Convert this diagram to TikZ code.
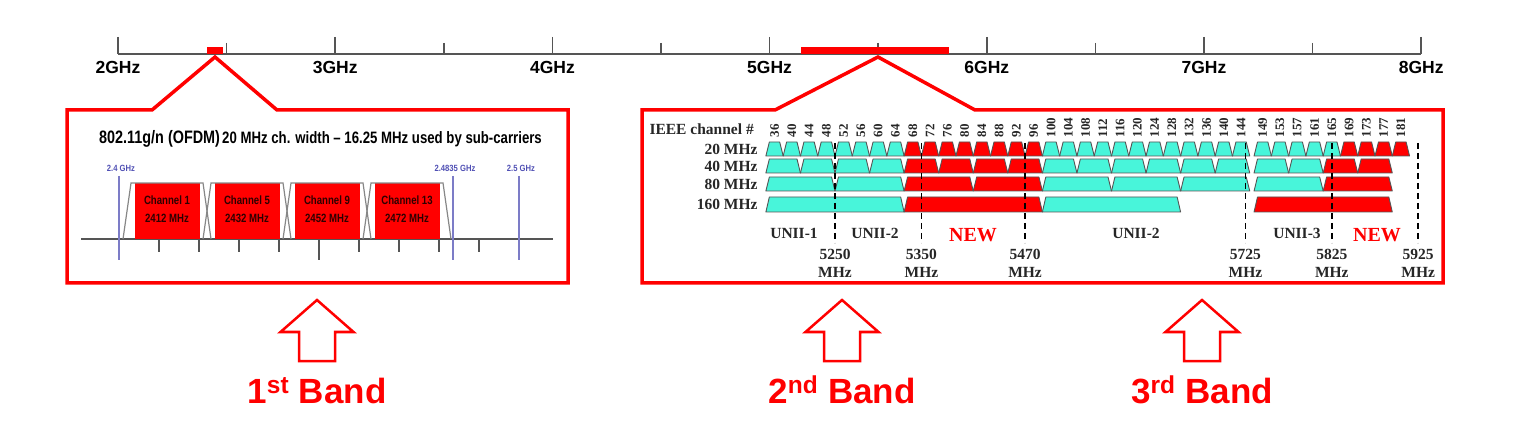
\documentclass[tikz,border=0pt]{standalone}
\usepackage{fontspec}
\usepackage{graphicx}
\setmainfont{Liberation Serif}
\newfontfamily\arialfont{Liberation Sans}
\usetikzlibrary{calc}
\definecolor{BandRed}{RGB}{255,0,0}
\definecolor{ChanCyan}{RGB}{72,245,218}
\definecolor{MarkBlue}{RGB}{80,80,180}
\definecolor{AxisGray}{RGB}{85,85,85}
\definecolor{MaskGray}{RGB}{135,135,135}
\definecolor{ChanInk}{RGB}{45,0,0}
\newcommand\setsize[1]{\fontsize{#1}{#1}\selectfont}
\newcommand\narrow[1]{\scalebox{0.8}[1]{#1}}
% centres, half width, top, bottom, first red, last red
\newcommand\chanrow[6]{%
  \foreach \c in {#1}{%
    \ifnum\c<#5\relax \def\colr{ChanCyan}\else
      \ifnum\c>#6\relax \def\colr{ChanCyan}\else \def\colr{BandRed}\fi\fi
    \draw[chanshape, fill=\colr] ({5*\c-#2},#4) -- ({5*\c-#2+4},#3)
      -- ({5*\c+#2-4},#3) -- ({5*\c+#2},#4) -- cycle;
  }}

\begin{document}
\begin{tikzpicture}[x=1pt, y=-1pt,
    callout/.style={draw=BandRed, line width=3.5pt, line join=miter},
    bandarrow/.style={draw=BandRed, line width=2.5pt, line join=miter},
    axisline/.style={draw=AxisGray, line width=1.5pt},
    ghzlbl/.style={font=\arialfont\bfseries\setsize{17.5}},
    chantext/.style={font=\arialfont\bfseries\setsize{12}, text=ChanInk},
    marktext/.style={font=\arialfont\bfseries\setsize{9}, text=MarkBlue},
    chanshape/.style={draw=AxisGray, line width=0.9pt, line join=round},
    chnum/.style={font=\bfseries\setsize{13}, rotate=90, anchor=west, inner sep=0.5pt, text=black!85},
    serifbold/.style={font=\bfseries\setsize{15.5}, text=black!85},
    edgeline/.style={draw=black, line width=1.8pt, dash pattern=on 6pt off 4pt},
    newtext/.style={font=\bfseries\setsize{20}, text=BandRed},
    bandtext/.style={font=\arialfont\bfseries\setsize{35}, text=BandRed, anchor=base}]
\useasboundingbox (0,0) rectangle (1518,430);

\draw[axisline] (118,54) -- (1421,54);
\foreach \g [evaluate=\g as \gx using {118+217.2*(\g-2)}] in {2,...,8} {
  \draw[axisline] (\gx,37) -- (\gx,54);
  \node[ghzlbl] (ghz\g) at (\gx,67) {\g GHz};
}
\foreach \g [evaluate=\g as \gx using {118+217.2*(\g-2)}] in {2.5,3.5,...,7.5}
  \draw[axisline] (\gx,43) -- (\gx,54);
\fill[BandRed] (207,47) rectangle (223,54);
\fill[BandRed] (801,47) rectangle (949,54);

\draw[callout] (67,110) -- (152,110) -- (215,57) -- (277,110) -- (568,110)
  -- (568,283) -- (67,283) -- cycle;
\draw[callout] (642,110) -- (775,110) -- (878,57) -- (975,110) -- (1443,110)
  -- (1443,283) -- (642,283) -- cycle;

% first band
\node[font=\arialfont\bfseries, anchor=west, inner sep=0pt] (title) at (99,139)
  {\narrow{{\setsize{18}802.11g/n (OFDM)} {\setsize{16.5}20 MHz ch. width – 16.25 MHz used by sub-carriers}}};
\begin{scope}[shift={(119,0)}, x=4pt]
  \draw[axisline, line width=1.3pt] (-9.5,239) -- (108.5,239);
  \foreach \t in {10,20,...,90}
    \draw[axisline, line width=1.3pt] (\t,239) -- (\t,252);
  \draw[axisline, line width=1.3pt] (50,252) -- (50,260);
  \foreach \n/\c/\f in {1/12/2412, 5/32/2432, 9/52/2452, 13/72/2472} {
    \fill[BandRed] (\c-8.125,183) rectangle (\c+8.125,239);
    \draw[MaskGray, line width=1.2pt] (\c-11,239) -- (\c-9,183) -- (\c+9,183) -- (\c+11,239);
    \node[chantext] (ch\n) at (\c,200) {\narrow{Channel \n}};
    \node[chantext] (mhz\n) at (\c,218) {\narrow{\f\ MHz}};
  }
  \foreach \k/\m/\lbl in {1/0/2.4 GHz, 2/83.5/2.4835 GHz, 3/100/2.5 GHz} {
    \draw[MarkBlue!75, line width=1.3pt] (\m,176) -- (\m,260);
    \node[marktext] (mark\k) at (\m+0.5,168) {\scalebox{0.85}[1]{\lbl}};
  }
\end{scope}

% second and third band
\node[serifbold, anchor=west] (ieee) at (646,129) {IEEE channel \#};
\foreach \r/\y in {20/149, 40/166, 80/184, 160/204.5}
  \node[serifbold, anchor=east] (w\r) at (761,\y) {\r\ MHz};
\begin{scope}[shift={(619,0)}, x=0.864pt]
  \chanrow{36,40,...,144}{10}{142}{156}{68}{96}
  \chanrow{149,153,...,181}{10}{142}{156}{169}{999}
  \chanrow{38,46,...,142}{20}{159}{173}{70}{94}
  \chanrow{151,159,167,175}{20}{159}{173}{167}{999}
  \chanrow{42,58,...,138}{40}{177}{191}{74}{90}
  \chanrow{155,171}{40}{177}{191}{171}{999}
  \chanrow{50,82,114}{80}{197}{212}{82}{82}
  \chanrow{163}{80}{197}{212}{163}{999}
  \foreach \c in {36,40,...,144}
    \node[chnum] (n\c) at (5*\c,138) {\c};
  \foreach \c in {149,153,...,181}
    \node[chnum] (n\c) at (5*\c,138) {\c};
  \foreach \f in {5250,5350,5470,5725,5825,5925} {
    \draw[edgeline] (\f-5000,143) -- (\f-5000,243);
    \node[serifbold, align=center, font=\bfseries\fontsize{15.5}{18}\selectfont]
      (e\f) at (\f-5000,263) {\f\\MHz};
  }
\end{scope}
\node[serifbold] (unii1) at (794,233) {UNII-1};
\node[serifbold] (unii2) at (875,233) {UNII-2};
\node[newtext] (new1) at (973,235) {NEW};
\node[serifbold] (unii2b) at (1136,233) {UNII-2};
\node[serifbold] (unii3) at (1297,233) {UNII-3};
\node[newtext] (new2) at (1377,235) {NEW};

\foreach \b/\cx/\ord in {1/317/st, 2/842/nd, 3/1202/rd} {
  \draw[bandarrow] (\cx,300) -- (\cx+36.5,332) -- (\cx+18,332) -- (\cx+18,361)
    -- (\cx-18,361) -- (\cx-18,332) -- (\cx-36.5,332) -- cycle;
  \node[bandtext] (band\b) at (\cx,403) {\b\textsuperscript{\ord} Band};
}
\end{tikzpicture}
\end{document}
